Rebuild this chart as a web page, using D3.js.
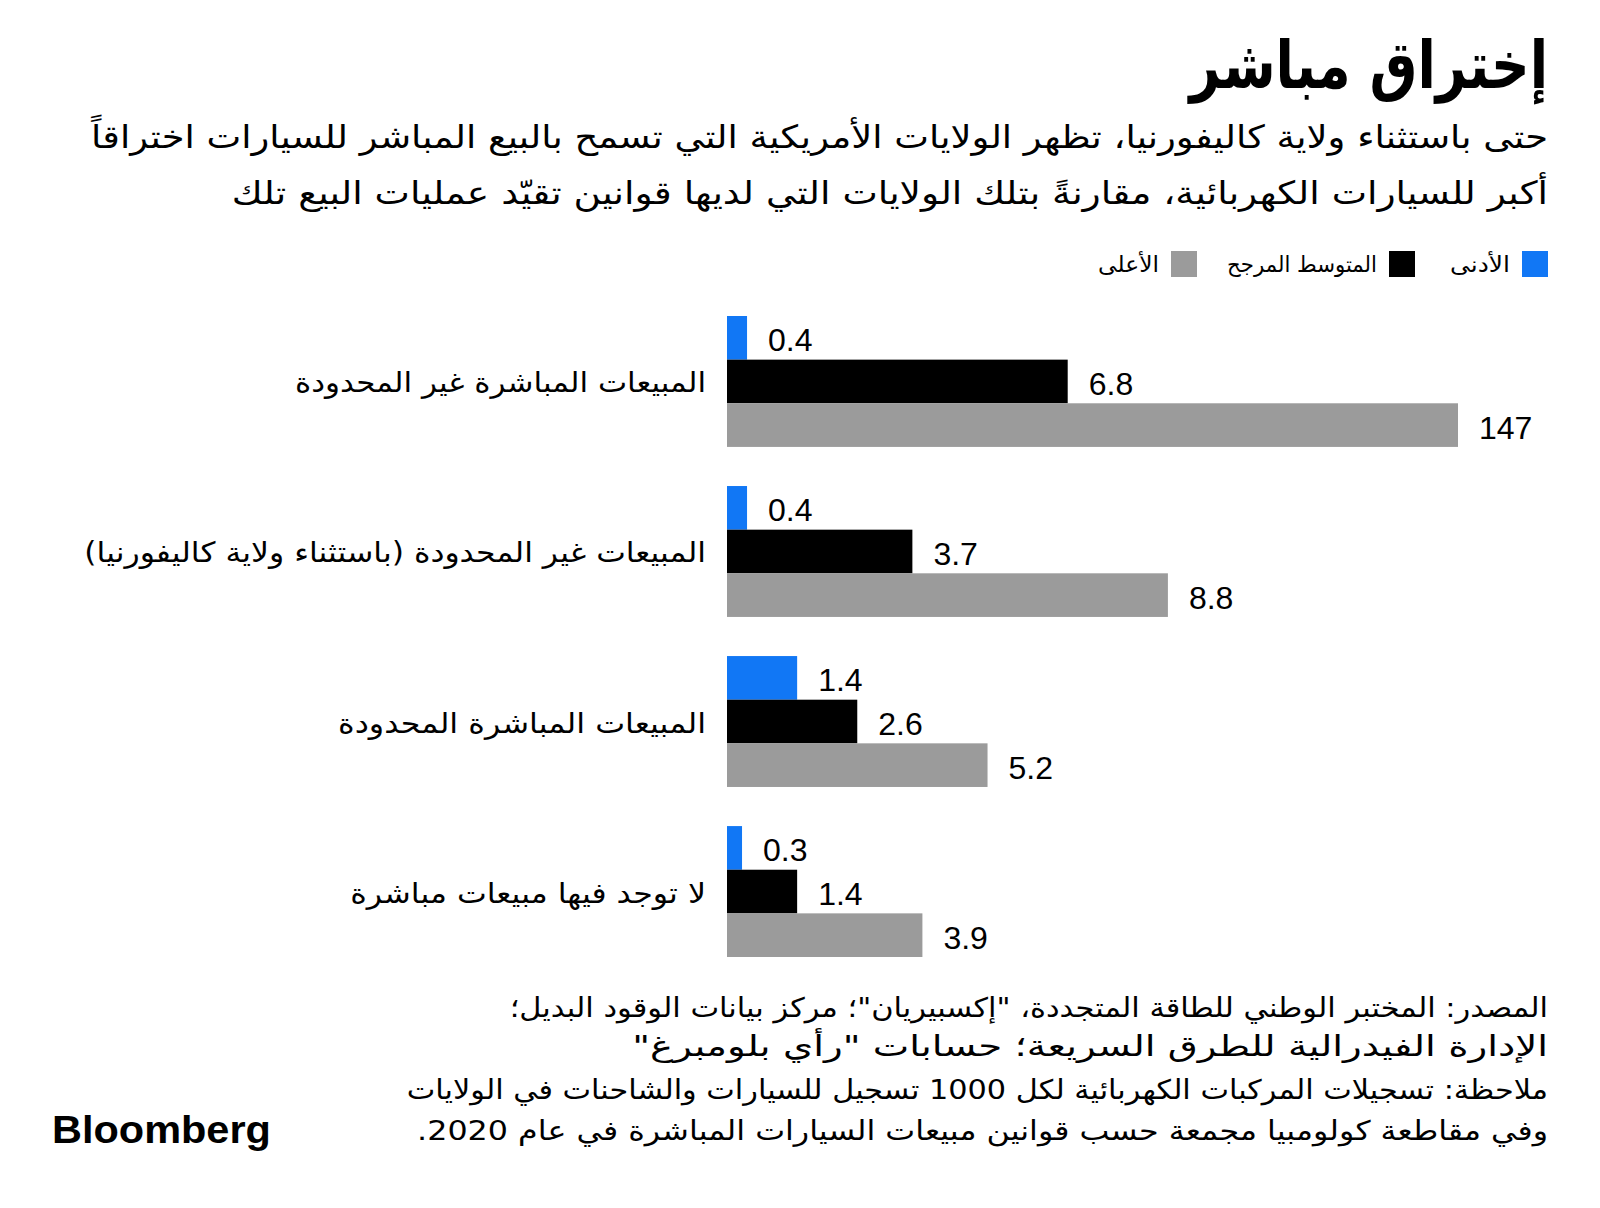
<!DOCTYPE html>
<html>
<head>
<meta charset="utf-8">
<script src="https://cdn.jsdelivr.net/npm/d3@7"></script>
<style>
  html, body { margin: 0; padding: 0; background: #fff; }
  svg { display: block; }
  .ar { font-family: "DejaVu Sans", "Noto Sans", sans-serif; }
  .num { font-family: "Liberation Sans", Arial, sans-serif; }
</style>
</head>
<body>
<svg id="chart" width="1600" height="1208"></svg>
<script>
// ---------- data ----------
const categories = [
  "المبيعات المباشرة غير المحدودة",
  "المبيعات غير المحدودة (باستثناء ولاية كاليفورنيا)",
  "المبيعات المباشرة المحدودة",
  "لا توجد فيها مبيعات مباشرة"
];
const seriesNames = ["الأدنى", "المتوسط المرجح", "الأعلى"];
const minValues = [0.4, 0.4, 1.4, 0.3];
const weightedAvgValues = [6.8, 3.7, 2.6, 1.4];
const maxValues = [147, 8.8, 5.2, 3.9];
const seriesColors = ["#1177f5", "#000000", "#9b9b9b"];

const titleText = "إختراق مباشر";
const subtitleLines = [
  "حتى باستثناء ولاية كاليفورنيا، تظهر الولايات الأمريكية التي تسمح بالبيع المباشر للسيارات اختراقاً",
  "أكبر للسيارات الكهربائية، مقارنةً بتلك الولايات التي لديها قوانين تقيّد عمليات البيع تلك"
];
const footerLines = [
  "المصدر: المختبر الوطني للطاقة المتجددة، \"إكسبيريان\"؛ مركز بيانات الوقود البديل؛",
  "الإدارة الفيدرالية للطرق السريعة؛ حسابات \"رأي بلومبرغ\"",
  "ملاحظة: تسجيلات المركبات الكهربائية لكل 1000 تسجيل للسيارات والشاحنات في الولايات",
  "وفي مقاطعة كولومبيا مجمعة حسب قوانين مبيعات السيارات المباشرة في عام 2020."
];

const seriesValues = [minValues, weightedAvgValues, maxValues];
const rows = categories.map((c, i) => ({
  category: c,
  values: seriesNames.map((s, j) => ({ series: s, value: seriesValues[j][i], idx: j }))
}));

// ---------- drawing ----------
const svg = d3.select("#chart");
const RIGHT = 1548;

// rtl text anchored at its right edge, optionally fitted to a target width
function rtlText(g, text, x, y, size, weight, targetWidth, cls) {
  const t = g.append("text")
    .attr("class", cls || "ar")
    .attr("direction", "rtl")
    .attr("text-anchor", "start")
    .attr("x", 0).attr("y", 0)
    .attr("font-size", size)
    .attr("font-weight", weight || "normal")
    .attr("fill", "#000")
    .text(text);
  let sx = 1;
  if (targetWidth) {
    const w = t.node().getBBox().width;
    if (w > 0) sx = targetWidth / w;
  }
  t.attr("transform", `translate(${x},${y}) scale(${sx},1)`);
  return t;
}

// title
rtlText(svg, titleText, RIGHT, 88, 66, "bold", 361);

// subtitle
rtlText(svg, subtitleLines[0], RIGHT, 148, 32, "normal", 1458);
rtlText(svg, subtitleLines[1], RIGHT, 204, 32, "normal", 1317);

// legend
const legendSquares = [1522, 1389, 1171];
const legendTextWidths = [60, 150, 61];
const legend = svg.append("g");
seriesNames.forEach((s, i) => {
  legend.append("rect")
    .attr("x", legendSquares[i]).attr("y", 251)
    .attr("width", 26).attr("height", 26)
    .attr("fill", seriesColors[i]);
  rtlText(legend, s, legendSquares[i] - 12, 272, 22, "normal", legendTextWidths[i]);
});

// scales
const x = d3.scaleLinear().domain([0, 14.59]).range([727, 1458]).clamp(true);
const y = d3.scaleBand().domain(categories).range([316, 957]).paddingInner(0.23).paddingOuter(0);
const ySub = d3.scaleBand().domain(seriesNames).range([0, y.bandwidth()]).padding(0);
const color = d3.scaleOrdinal().domain(seriesNames).range(seriesColors);

const groups = svg.append("g").selectAll("g.group")
  .data(rows).join("g")
  .attr("class", "group")
  .attr("transform", d => `translate(0,${y(d.category)})`);

groups.selectAll("rect.bar")
  .data(d => d.values).join("rect")
  .attr("class", "bar")
  .attr("x", x(0))
  .attr("y", d => ySub(d.series))
  .attr("width", d => x(d.value) - x(0))
  .attr("height", ySub.bandwidth())
  .attr("fill", d => color(d.series));

groups.selectAll("text.val")
  .data(d => d.values).join("text")
  .attr("class", "val num")
  .attr("x", d => x(d.value) + 21)
  .attr("y", d => ySub(d.series) + ySub.bandwidth() / 2)
  .attr("dy", "0.42em")
  .attr("font-size", 32)
  .attr("fill", "#000")
  .text(d => String(d.value));

// category labels
const catWidths = [411, 622, 368, 356];
const catG = svg.append("g");
categories.forEach((c, i) => {
  const cy = y(c) + ySub(seriesNames[1]) + ySub.bandwidth() / 2;
  rtlText(catG, c, 706, cy + 11, 28, "normal", catWidths[i]);
});

// footer
const footerWidths = [1039, 916, 1142, 1131];
const footerY = [1017, 1056, 1099, 1140];
const footerSizes = [27, 28.5, 27, 27];
footerLines.forEach((l, i) => {
  rtlText(svg, l, RIGHT, footerY[i], footerSizes[i], "normal", footerWidths[i]);
});

// logo
const logo = svg.append("text")
  .attr("class", "num")
  .attr("x", 0).attr("y", 0)
  .attr("font-size", 39)
  .attr("font-weight", "bold")
  .attr("fill", "#000")
  .text("Bloomberg");
const lw = logo.node().getBBox().width;
logo.attr("transform", `translate(52,1143) scale(${219 / lw},1)`);
</script>
</body>
</html>
